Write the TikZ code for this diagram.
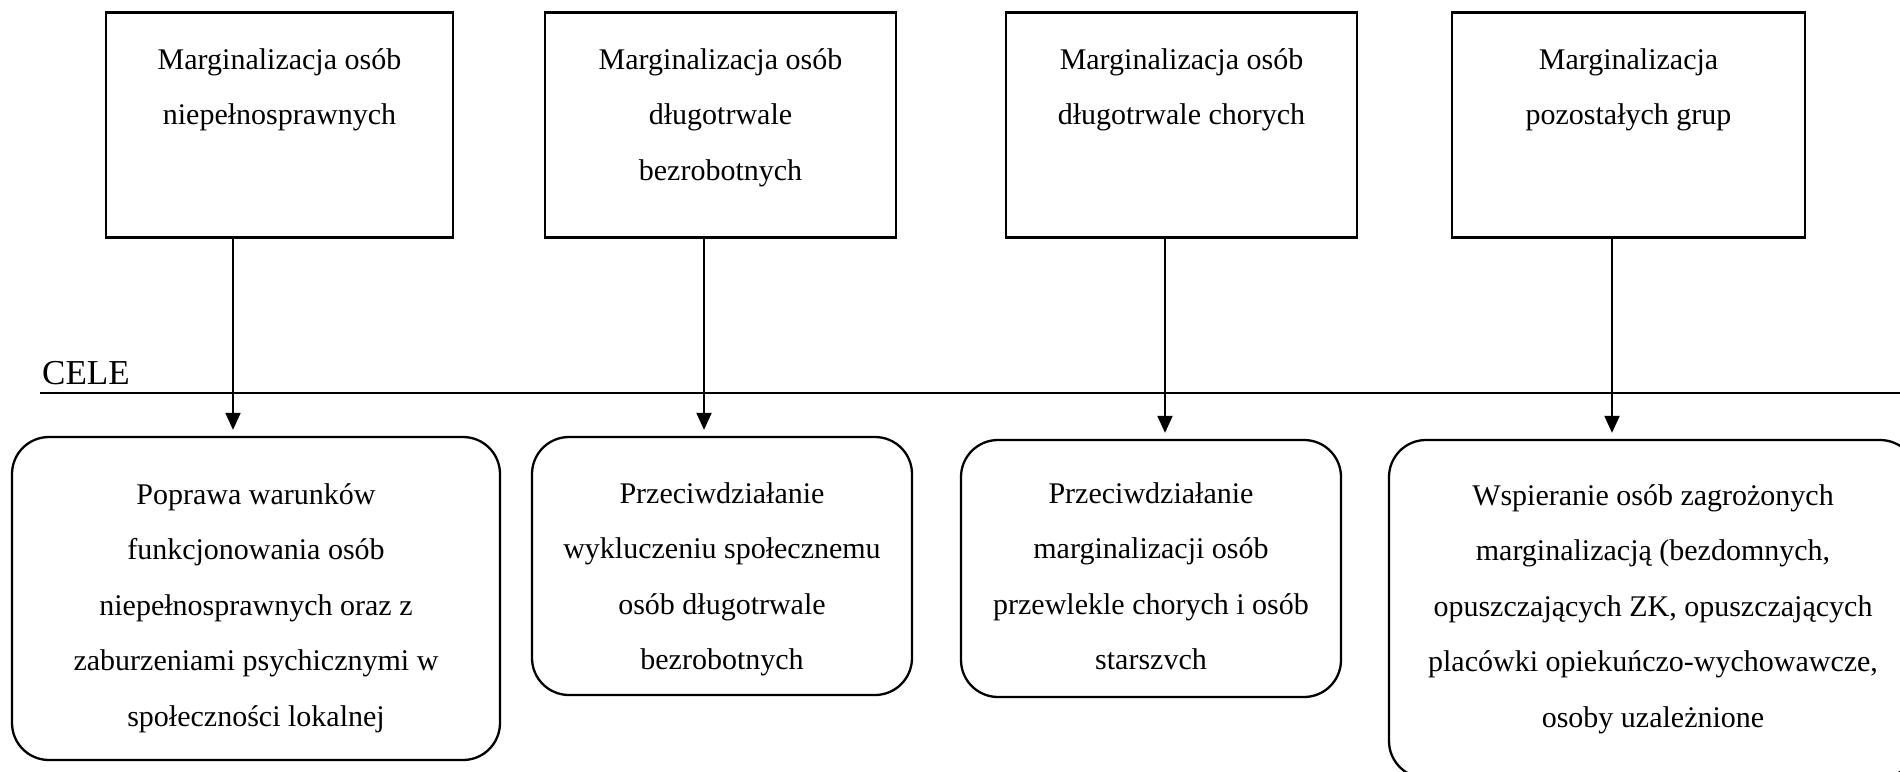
\documentclass[tikz,border=0pt]{standalone}
\usepackage{fontspec}
\setmainfont{Liberation Serif}
\usetikzlibrary{arrows.meta}
\tikzset{
  topbox/.style={draw, line width=2.5pt, inner sep=0pt, minimum height=225pt},
  goalbox/.style={draw, line width=2.3pt, rounded corners=37pt, inner sep=0pt},
  txt/.style={align=center, inner sep=0pt, anchor=north, font=\fontsize{30pt}{55.5pt}\selectfont,
    execute at begin node={\rule{0pt}{25pt}}},
  conn/.style={line width=2pt, -{Triangle[length=17pt,width=15pt]}, shorten >=6pt},
  baseline rule/.style={line width=2pt}
}
\begin{document}
\begin{tikzpicture}[x=1pt, y=-1pt]
\useasboundingbox (0,0) rectangle (1900,771);
% top boxes
\node[topbox, minimum width=347pt] (b1) at (279.5,125) {};
\node[topbox, minimum width=351pt] (b2) at (720.5,125) {};
\node[topbox, minimum width=351pt] (b3) at (1181.5,125) {};
\node[topbox, minimum width=353pt] (b4) at (1628.5,125) {};
% text: node top = baseline - 25
\node[txt] (t1) at (279.5,48) {Marginalizacja osób\\niepełnosprawnych};
\node[txt] (t2) at (720.5,48) {Marginalizacja osób\\długotrwale\\bezrobotnych};
\node[txt] (t3) at (1181.5,48) {Marginalizacja osób\\długotrwale chorych};
\node[txt] (t4) at (1628.5,48) {Marginalizacja\\pozostałych grup};
% CELE line
\coordinate (celeL) at (40,393);
\coordinate (celeR) at (1900,393);
\draw[baseline rule] (celeL) -- (celeR);
\node[inner sep=0pt, anchor=base west, font=\fontsize{35pt}{40pt}\selectfont] (cele) at (42,384) {CELE};
% goal boxes
\node[goalbox, minimum width=488pt, minimum height=323pt] (g1) at (256,598.5) {};
\node[goalbox, minimum width=380pt, minimum height=258pt] (g2) at (722,566) {};
\node[goalbox, minimum width=380pt, minimum height=257pt] (g3) at (1151,568.5) {};
\node[goalbox, minimum width=528pt, minimum height=338pt] (g4) at (1653,609) {};
\node[txt] (s1) at (256,483) {Poprawa warunków\\funkcjonowania osób\\niepełnosprawnych oraz z\\zaburzeniami psychicznymi w\\społeczności lokalnej};
\node[txt] (s2) at (722,482) {Przeciwdziałanie\\wykluczeniu społecznemu\\osób długotrwale\\bezrobotnych};
\node[txt] (s3) at (1151,482) {Przeciwdziałanie\\marginalizacji osób\\przewlekle chorych i osób\\starszvch};
\node[txt] (s4) at (1653,484) {Wspieranie osób zagrożonych\\marginalizacją (bezdomnych,\\opuszczających ZK, opuszczających\\placówki opiekuńczo-wychowawcze,\\osoby uzależnione};
% connector x positions
\coordinate (x1) at (233,0);
\coordinate (x2) at (704,0);
\coordinate (x3) at (1165,0);
\coordinate (x4) at (1612,0);
\draw[conn] (b1.south -| x1) -- (g1.north -| x1);
\draw[conn] (b2.south -| x2) -- (g2.north -| x2);
\draw[conn] (b3.south -| x3) -- (g3.north -| x3);
\draw[conn] (b4.south -| x4) -- (g4.north -| x4);
\end{tikzpicture}
\end{document}
